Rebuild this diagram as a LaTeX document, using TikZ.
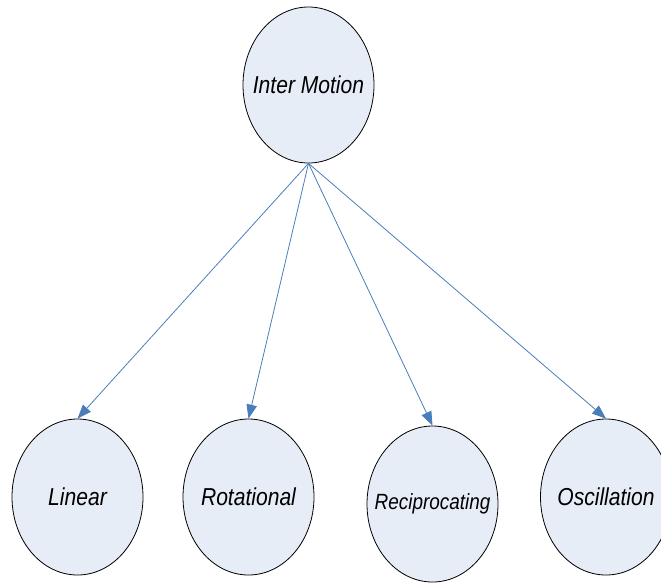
\documentclass[tikz,border=0pt]{standalone}
\usepackage{fontspec}
\usetikzlibrary{shapes.geometric,arrows.meta}
\newfontfamily\labelfont[FakeStretch=0.86]{Liberation Sans}
\definecolor{bubblefill}{RGB}{231,237,247}
\definecolor{linkblue}{RGB}{74,126,187}
\begin{document}
\begin{tikzpicture}[x=1pt,y=-1pt,
  bubble/.style={ellipse,draw=black,line width=0.8pt,fill=bubblefill,
    minimum width=131pt,minimum height=156pt,inner sep=0pt},
  bubbletext/.style={font=\labelfont\itshape\fontsize{24.5}{28}\selectfont},
  smalltext/.style={font=\labelfont\itshape\fontsize{22}{26}\selectfont},
  link/.style={draw=linkblue,line width=0.8pt,
    -{Triangle[length=14pt,width=10.5pt]}}]
  \useasboundingbox (0,0) rectangle (661,582);
  \clip (0,0) rectangle (661,582);
  % root of the tree
  \node[bubble,label={[bubbletext]center:Inter Motion}] (inter) at (308.5,85) {};
  % kinds of motion
  \node[bubble,label={[bubbletext]center:Linear}] (linear) at (77.5,497) {};
  \node[bubble,label={[bubbletext]center:Rotational}] (rot) at (248.5,497) {};
  \node[bubble,label={[smalltext]center:Reciprocating}] (recip) at (432.5,504) {};
  \node[bubble,label={[bubbletext]center:Oscillation}] (osc) at (606,497) {};
  % branches
  \draw[link] (inter.south) -- (linear.north);
  \draw[link] (inter.south) -- (rot.north);
  \draw[link] (inter.south) -- (recip.north);
  \draw[link] (inter.south) -- (osc.north);
\end{tikzpicture}
\end{document}
